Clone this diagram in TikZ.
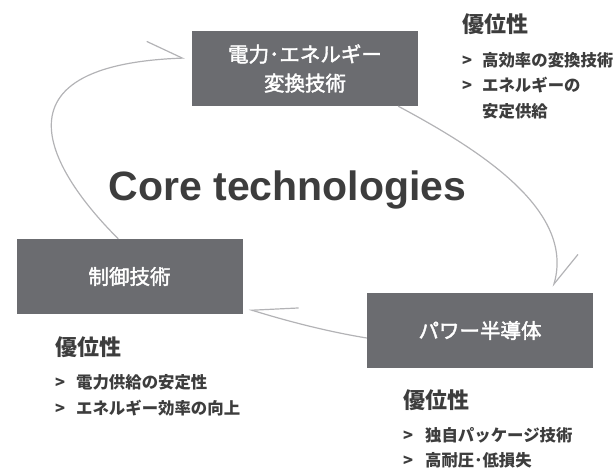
\documentclass[tikz,border=0pt]{standalone}
\usepackage{fontspec}
\newfontfamily\jp{Noto Sans CJK JP}
\newfontfamily\jpm[FakeBold=2]{Noto Sans CJK JP}
\newfontfamily\lat{Liberation Sans}
\usetikzlibrary{arrows.meta,calc}
\definecolor{boxgray}{HTML}{6B6C70}
\definecolor{arrgray}{HTML}{B3B3B6}
\definecolor{txtdark}{HTML}{3D3D3D}
\begin{document}
\begin{tikzpicture}[x=1pt,y=-1pt,
  corebox/.style={fill=boxgray, draw=none, minimum width=226pt, minimum height=75pt, inner sep=0pt, text=white, font=\jpm\fontsize{20.5}{29}\selectfont, align=center},
  heading/.style={anchor=base west, inner sep=0pt, text=txtdark, font=\jp\bfseries\fontsize{22}{26}\selectfont},
  item/.style={anchor=base west, inner sep=0pt, text=txtdark, font=\jp\bfseries\fontsize{16.4}{26}\selectfont, align=left},
  flow/.style={draw=arrgray, line width=1.2pt},
]
\useasboundingbox (0,0) rectangle (614,475);
\node[corebox] (conv) at (305,68.5) {電力･エネルギー\\変換技術};
\node[corebox] (ctrl) at (129.5,276.5) {制御技術};
\node[corebox] (semi) at (480,330.5) {パワー半導体};
\node[anchor=base, inner sep=0pt, text=txtdark, font=\lat\bfseries\fontsize{41}{41}\selectfont] (title) at (287.5,200) {Core technologies};

\node[heading] (adv1) at (462,32.4) {優位性};
\node[item] (adv1a) at (462,66.2) {\makebox[20pt][l]{>}高効率の変換技術};
\node[item] (adv1b) at (462,117.2) {\makebox[20pt][l]{>}エネルギーの\\\hspace*{20pt}安定供給};

\node[heading] (adv2) at (55,355.4) {優位性};
\node[item] (adv2a) at (55,388.2) {\makebox[21pt][l]{>}電力供給の安定性};
\node[item] (adv2b) at (55,414.2) {\makebox[21pt][l]{>}エネルギー効率の向上};

\node[heading] (adv3) at (403,408.4) {優位性};
\node[item] (adv3a) at (403,441.2) {\makebox[22pt][l]{>}独自パッケージ技術};
\node[item] (adv3b) at (403,466.2) {\makebox[22pt][l]{>}高耐圧･低損失};

\coordinate (a1s) at ($(ctrl.north west)+(102,0)$);
\coordinate (a1e) at ($(conv.west)+(-7,-10.5)$);
\coordinate (a2s) at ($(conv.south east)+(-20,0)$);
\coordinate (a2e) at ($(semi.north east)+(-40,-6)$);
\coordinate (a3s) at ($(semi.west)+(0,7.5)$);
\coordinate (a3e) at ($(ctrl.south east)+(6,-5)$);

\draw[flow, -{Straight Barb[harpoon, length=35pt, width=36pt]}] (a1s) .. controls (69,190) and (-31,66) .. (a1e);
\draw[flow, -{Straight Barb[harpoon, length=35pt, width=30pt]}] (a2s) .. controls (480,150) and (575,210) .. (a2e);
\draw[flow, -{Straight Barb[harpoon, swap, length=44pt, width=32pt]}] (a3s) .. controls (330,332) and (290,322) .. (a3e);
\end{tikzpicture}
\end{document}
